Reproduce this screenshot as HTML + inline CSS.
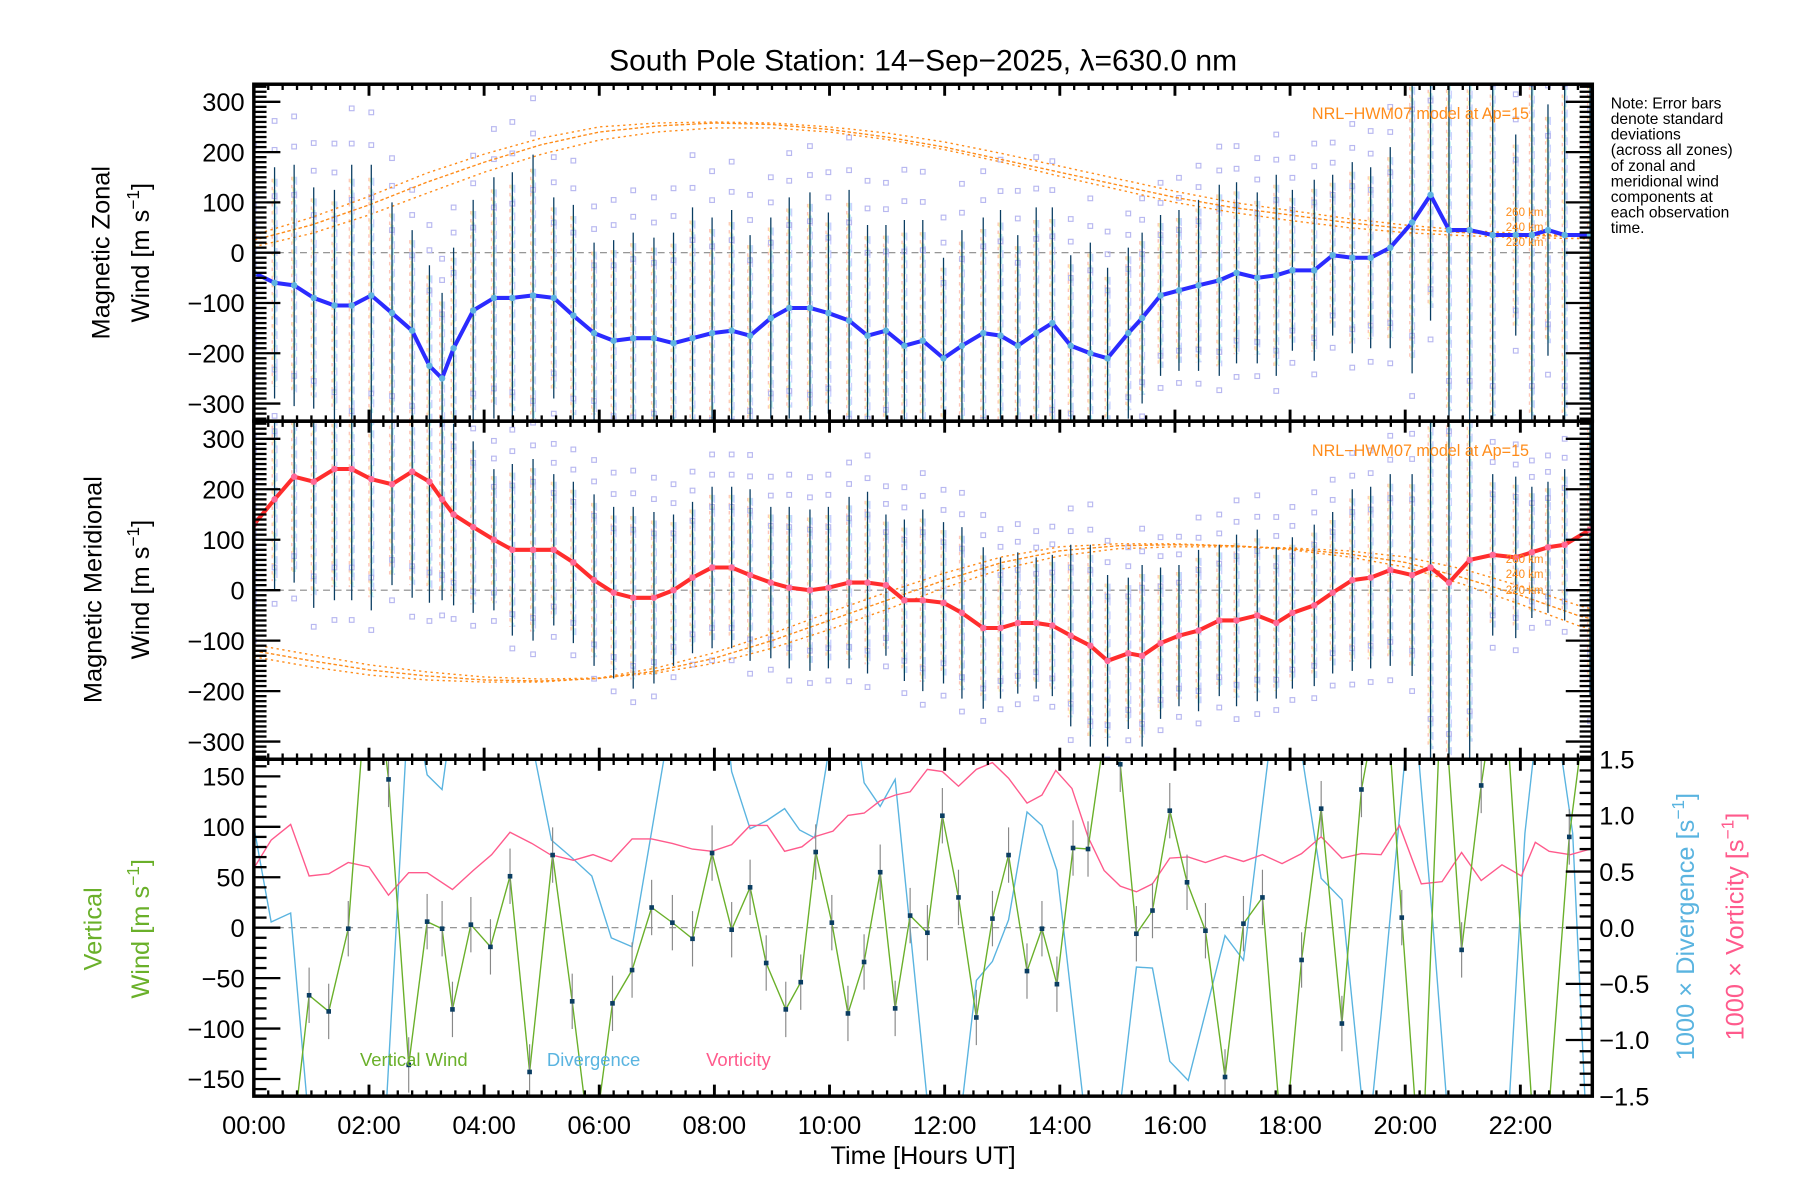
<!DOCTYPE html>
<html><head><meta charset="utf-8"><style>
html,body{margin:0;padding:0;background:#fff;width:1800px;height:1200px;overflow:hidden;}
svg{display:block;font-family:"Liberation Sans",sans-serif;}
</style></head><body>
<svg id="chart" width="1800" height="1200" viewBox="0 0 1560 1040" xmlns="http://www.w3.org/2000/svg">
<rect width="1560" height="1040" fill="#fff"/>
<defs>
<clipPath id="c1"><rect x="220" y="73" width="1160" height="292"/></clipPath>
<clipPath id="c2"><rect x="220" y="365" width="1160" height="293"/></clipPath>
<clipPath id="c3"><rect x="220" y="658" width="1160" height="292"/></clipPath>
</defs>
<text x="800" y="61" font-size="26" text-anchor="middle">South Pole Station: 14−Sep−2025, λ=630.0 nm</text>
<g id="p1"></g>
<g id="p2"></g>
<g id="p3"></g>
<g id="axes"></g>
<text transform="translate(95,219) rotate(-90)" font-size="22" text-anchor="middle">Magnetic Zonal</text>
<text transform="translate(129,219) rotate(-90)" font-size="22" text-anchor="middle">Wind [m s<tspan baseline-shift="super" font-size="15">−1</tspan>]</text>
<text transform="translate(88,511) rotate(-90)" font-size="22" text-anchor="middle">Magnetic Meridional</text>
<text transform="translate(129,511) rotate(-90)" font-size="22" text-anchor="middle">Wind [m s<tspan baseline-shift="super" font-size="15">−1</tspan>]</text>
<text transform="translate(88,805) rotate(-90)" font-size="22" text-anchor="middle" fill="#6ab02a">Vertical</text>
<text transform="translate(129,805) rotate(-90)" font-size="22" text-anchor="middle" fill="#6ab02a">Wind [m s<tspan baseline-shift="super" font-size="15">−1</tspan>]</text>
<text transform="translate(1468,803) rotate(-90)" font-size="22" text-anchor="middle" fill="#5ab4e0">1000 × Divergence [s<tspan baseline-shift="super" font-size="15">−1</tspan>]</text>
<text transform="translate(1511,803) rotate(-90)" font-size="22" text-anchor="middle" fill="#ff5a8c">1000 × Vorticity [s<tspan baseline-shift="super" font-size="15">−1</tspan>]</text>
<text x="800" y="1009" font-size="22" text-anchor="middle">Time [Hours UT]</text>
<text x="312" y="924" font-size="16" fill="#6ab02a">Vertical Wind</text>
<text x="474" y="924" font-size="16" fill="#5ab4e0">Divergence</text>
<text x="612" y="924" font-size="16" fill="#ff5a8c">Vorticity</text>
<g font-size="13.5">
<text x="1396" y="94">Note: Error bars</text><text x="1396" y="107.5">denote standard</text><text x="1396" y="121">deviations</text><text x="1396" y="134.5">(across all zones)</text><text x="1396" y="148">of zonal and</text><text x="1396" y="161.5">meridional wind</text><text x="1396" y="175">components at</text><text x="1396" y="188.5">each observation</text><text x="1396" y="202">time.</text>
</g>
<g fill="#ff8c1a">
<text x="1137" y="103" font-size="14">NRL−HWM07 model at Ap=15</text>
<text x="1305" y="187" font-size="10">260 km</text><text x="1305" y="200" font-size="10">240 km</text><text x="1305" y="213" font-size="10">220 km</text>
<text x="1137" y="395" font-size="14">NRL−HWM07 model at Ap=15</text>
<text x="1305" y="488" font-size="10">260 km</text><text x="1305" y="501" font-size="10">240 km</text><text x="1305" y="515" font-size="10">220 km</text>
</g>
</svg>
<script>
// ---- data ----
const obsHours = [0,0.36,0.70,1.04,1.40,1.70,2.04,2.40,2.75,3.05,3.27,3.47,3.81,4.17,4.49,4.85,5.21,5.55,5.91,6.25,6.59,6.95,7.29,7.62,7.96,8.30,8.62,8.98,9.30,9.66,9.98,10.34,10.66,10.98,11.30,11.62,11.98,12.30,12.67,12.97,13.27,13.59,13.87,14.19,14.53,14.83,15.19,15.43,15.75,16.07,16.41,16.77,17.07,17.43,17.76,18.04,18.42,18.74,19.08,19.40,19.74,20.12,20.44,20.76,21.12,21.52,21.92,22.20,22.48,22.77,23.21];
const zonalWind = [-40,-60,-65,-90,-105,-105,-85,-120,-155,-225,-250,-190,-115,-90,-90,-85,-90,-125,-160,-175,-170,-170,-180,-170,-160,-155,-165,-130,-110,-110,-120,-135,-165,-155,-185,-175,-210,-185,-160,-165,-185,-160,-140,-185,-200,-210,-160,-130,-85,-75,-65,-55,-40,-50,-45,-35,-35,-5,-10,-10,10,60,115,45,45,35,35,35,45,35,35];
const zonalErr = [180,230,240,220,230,280,260,220,200,200,170,200,220,240,250,280,200,220,180,200,210,200,220,260,230,240,200,200,220,230,200,260,220,210,250,240,200,230,230,250,220,250,230,180,220,180,170,170,160,160,170,190,180,170,200,160,180,160,190,180,200,300,250,400,400,400,200,400,250,400,330];
const meridWind = [130,180,225,215,240,240,220,210,235,215,180,150,125,100,80,80,80,55,20,-5,-15,-15,0,25,45,45,30,15,5,0,5,15,15,10,-20,-20,-25,-45,-75,-75,-65,-65,-70,-90,-110,-140,-125,-130,-105,-90,-80,-60,-60,-50,-65,-45,-30,-5,20,25,40,30,45,15,60,70,65,75,85,90,120];
const meridErr = [200,180,210,250,260,260,260,200,250,240,200,180,170,140,170,180,150,160,170,170,180,170,150,150,160,160,170,150,160,160,160,170,180,140,160,180,160,170,160,140,140,130,140,180,200,170,150,180,150,140,160,150,170,170,150,150,160,160,180,180,190,200,400,400,400,160,160,130,130,150,330];
const modelHours = [0,1,2,3,4,5,6,7,8,9,10,11,12,13,14,15,16,17,18,19,20,21,22,23,24];
const modelZonal240 = [25,55,95,140,180,215,240,252,258,255,245,230,210,185,160,135,110,90,75,60,48,40,35,32,30];
const modelZonal260 = [35,70,112,158,196,228,250,258,260,258,250,238,220,197,172,147,122,100,84,68,55,45,38,34,32];
const modelZonal220 = [12,38,75,118,160,196,224,240,248,248,240,225,205,180,152,126,100,80,64,50,40,34,30,28,27];
const modelMerid240 = [-120,-140,-158,-170,-178,-180,-175,-160,-135,-100,-60,-20,20,55,78,88,90,88,82,72,55,25,-10,-50,-80];
const modelMerid260 = [-108,-128,-148,-162,-172,-176,-174,-164,-145,-115,-78,-38,5,42,68,82,86,86,84,78,66,42,8,-30,-60];
const modelMerid220 = [-132,-152,-168,-178,-182,-182,-174,-154,-124,-86,-44,-4,34,66,86,92,92,88,80,66,46,12,-28,-70,-100];
const vertHours = [0,0.60,0.96,1.30,1.64,2.04,2.34,2.69,3.01,3.27,3.45,3.77,4.11,4.45,4.79,5.19,5.53,5.87,6.23,6.57,6.91,7.27,7.62,7.96,8.30,8.62,8.90,9.24,9.50,9.76,10.04,10.32,10.60,10.88,11.14,11.40,11.70,11.96,12.24,12.55,12.83,13.11,13.43,13.69,13.95,14.23,14.49,14.87,15.05,15.33,15.61,15.91,16.21,16.53,16.87,17.19,17.52,17.88,18.20,18.54,18.90,19.24,19.64,19.94,20.28,20.64,20.98,21.32,21.68,22.34,22.85,23.21];
const vertWind = [-170,-250,-67,-83,-1,300,147,-136,6,-1,-81,3,-19,51,-143,72,-73,-230,-75,-42,20,5,-11,74,-2,40,-35,-81,-54,75,5,-85,-34,55,-80,12,-5,111,30,-89,9,72,-43,-1,-56,79,78,230,162,-6,17,116,45,-3,-148,4,30,-230,-32,118,-95,137,260,10,-260,260,-22,141,280,-300,90,250];
const divHours = [0,0.30,0.64,1.34,2.04,2.71,3.01,3.27,3.61,4.41,4.85,5.17,5.51,5.87,6.21,6.57,7.62,7.96,8.30,8.62,8.90,9.22,9.48,9.74,10.28,10.60,10.88,11.14,11.98,12.55,12.83,13.11,13.43,13.69,13.95,14.73,15.33,15.61,15.91,16.23,16.87,17.19,17.88,18.54,18.90,19.34,19.58,20.12,20.48,20.94,21.64,22.08,22.44,22.91,23.21];
const divergence = [0.9,0.05,0.13,-4,-4,2.2,1.36,1.23,2.5,2.5,1.6,0.78,0.63,0.46,-0.09,-0.17,3,3,1.39,0.88,0.95,1.06,0.87,0.8,2.5,1.29,1.08,1.32,-3,-0.47,-0.30,0.07,1.03,0.91,0.51,-3,-0.35,-0.36,-1.19,-1.36,-0.07,-0.29,2.6,0.44,0.25,-2,-0.78,2.2,0.04,-3,-3,0.84,2.5,0.84,-2.5];
const vortHours = [0,0.30,0.64,0.96,1.30,1.64,2.00,2.34,2.69,3.01,3.45,3.81,4.13,4.45,4.83,5.15,5.55,5.89,6.21,6.57,6.91,7.27,7.62,7.96,8.30,8.62,8.92,9.22,9.52,9.74,10.06,10.32,10.60,10.88,11.14,11.40,11.70,11.96,12.24,12.55,12.83,13.11,13.43,13.69,13.93,14.21,14.49,14.77,15.05,15.33,15.61,15.91,16.23,16.53,16.87,17.19,17.52,17.86,18.20,18.54,18.90,19.24,19.58,19.90,20.28,20.64,20.98,21.32,21.68,22.02,22.26,22.50,22.87,23.21];
const vorticity = [0.53,0.78,0.92,0.46,0.48,0.58,0.54,0.29,0.49,0.49,0.34,0.51,0.65,0.85,0.75,0.65,0.60,0.65,0.59,0.79,0.79,0.75,0.70,0.68,0.74,0.91,0.91,0.68,0.72,0.81,0.86,1.0,1.02,1.13,1.18,1.21,1.41,1.39,1.26,1.41,1.47,1.33,1.11,1.18,1.40,1.24,0.81,0.51,0.37,0.32,0.39,0.62,0.63,0.58,0.64,0.59,0.65,0.57,0.66,0.81,0.62,0.66,0.65,0.91,0.39,0.41,0.67,0.42,0.56,0.46,0.76,0.68,0.65,0.70];
const xTickLabels = ["00:00","02:00","04:00","06:00","08:00","10:00","12:00","14:00","16:00","18:00","20:00","22:00"];
const windTicks = [-300,-200,-100,0,100,200,300];
const vertTicks = [-150,-100,-50,0,50,100,150];
const rightTicks = [-1.5,-1.0,-0.5,0.0,0.5,1.0,1.5];

// ---- geometry ----
const NS = 'http://www.w3.org/2000/svg';
const X0 = 220, X1 = 1380, HMAX = 23.25;
const xs = h => X0 + h * (X1 - X0) / HMAX;
const P = [{top:73,bot:365,min:-335,max:335},{top:365,bot:658,min:-335,max:335},{top:658,bot:950,min:-167,max:167}];
const yf = (p, v) => p.bot - (v - p.min) / (p.max - p.min) * (p.bot - p.top);
const yR = v => 804 - v * (146 / 1.5);
function mk(parent, tag, attrs) {
  const e = document.createElementNS(NS, tag);
  for (const k in attrs) e.setAttribute(k, attrs[k]);
  parent.appendChild(e);
  return e;
}
function pts(hs, vs, fy) { return hs.map((h, i) => xs(h).toFixed(1) + ',' + fy(vs[i]).toFixed(1)).join(' '); }
// polyline clipped geometrically to [ymin, ymax], returned as path d
function clippedPath(hs, vs, fy, ymin, ymax) {
  let d = '', pen = false;
  for (let i = 0; i < hs.length - 1; i++) {
    let xa = xs(hs[i]), ya = fy(vs[i]), xb = xs(hs[i + 1]), yb = fy(vs[i + 1]);
    let t0 = 0, t1 = 1;
    const dy = yb - ya;
    if (dy === 0) { if (ya < ymin || ya > ymax) { pen = false; continue; } }
    else {
      let ta = (ymin - ya) / dy, tb = (ymax - ya) / dy;
      if (ta > tb) { const s = ta; ta = tb; tb = s; }
      t0 = Math.max(0, ta); t1 = Math.min(1, tb);
      if (t0 > t1) { pen = false; continue; }
    }
    const x0 = xa + (xb - xa) * t0, y0 = ya + dy * t0, x1 = xa + (xb - xa) * t1, y1 = ya + dy * t1;
    if (!pen || t0 > 0) d += 'M' + x0.toFixed(1) + ',' + y0.toFixed(1);
    d += 'L' + x1.toFixed(1) + ',' + y1.toFixed(1);
    pen = t1 === 1;
  }
  return d;
}

const pastel = ['#ffb8a8','#fff0a0','#c8f5b0','#b0f0f0','#c0c8ff'];
function windPanel(gid, clip, p, vals, errs, lineCol, dotCol, mh, m260, m240, m220, nm) {
  const g = mk(document.getElementById(gid), 'g', {'clip-path': 'url(#' + clip + ')'});
  const fy = v => yf(p, v);
  const z = mk(g, 'line', {x1: X0, x2: X1, y1: fy(0), y2: fy(0), stroke: '#888', 'stroke-dasharray': '6,4', 'stroke-width': 1});
  
  
  obsHours.forEach((h, i) => {
    const e = errs[i] || 170, x = xs(h);
    pastel.forEach((c, k) => {
      const b = mk(g, 'line', {x1: x - 2 + k, x2: x - 2 + k, y1: fy(vals[i] + e * 0.9), y2: fy(vals[i] - e * 0.9), stroke: c, 'stroke-width': 1.3, 'stroke-dasharray': (3 + k) + ',' + (4 + k % 3), opacity: 0.8});
      
      
    });
    [1.15, 0.75, -0.75, -1.15, 1.4].forEach(f => {
      const s = mk(g, 'rect', {x: x - 2, y: fy(vals[i] + e * f) - 2, width: 4, height: 4, fill: 'none', stroke: '#b8b8f0', 'stroke-width': 1});
      
      
    });
  });
  [[m260, '2,3'], [m240, '3,2'], [m220, '2,3']].forEach(([m, d]) => {
    const l = mk(g, 'polyline', {points: pts(mh, m, fy), fill: 'none', stroke: '#ff8c1a', 'stroke-width': 1.2, 'stroke-dasharray': d});
    
    
  });
  obsHours.forEach((h, i) => {
    const e = errs[i] || 170;
    const b = mk(g, 'line', {x1: xs(h), x2: xs(h), y1: fy(vals[i] + e), y2: fy(vals[i] - e), stroke: '#0a3d62', 'stroke-width': 1.1});
    
    
  });
  const ln = mk(g, 'polyline', {points: pts(obsHours, vals, fy), fill: 'none', stroke: lineCol, 'stroke-width': 3.5, 'stroke-linejoin': 'round'});
  
  
  obsHours.forEach((h, i) => {
    const d = mk(g, 'circle', {cx: xs(h), cy: fy(vals[i]), r: 2.8, fill: dotCol});
    
    
  });
}
windPanel('p1', 'c1', P[0], zonalWind, zonalErr, '#2b2bff', '#5fb4e0', modelHours, modelZonal260, modelZonal240, modelZonal220, 'zonal');
windPanel('p2', 'c2', P[1], meridWind, meridErr, '#ff2d2d', '#ff6a98', modelHours, modelMerid260, modelMerid240, modelMerid220, 'meridional');

(function () {
  const g = mk(document.getElementById('p3'), 'g', {'clip-path': 'url(#c3)'});
  const fy = v => yf(P[2], v);
  const YMIN = P[2].top - 5, YMAX = P[2].bot + 5;
  const z = mk(g, 'line', {x1: X0, x2: X1, y1: fy(0), y2: fy(0), stroke: '#888', 'stroke-dasharray': '6,4', 'stroke-width': 1});
  
  
  const dv = mk(g, 'path', {d: clippedPath(divHours, divergence, yR, YMIN, YMAX), fill: 'none', stroke: '#5ab4e0', 'stroke-width': 1.2});
  
  
  const vo = mk(g, 'path', {d: clippedPath(vortHours, vorticity, yR, YMIN, YMAX), fill: 'none', stroke: '#ff5a8c', 'stroke-width': 1.2});
  
  
  const vw = mk(g, 'path', {d: clippedPath(vertHours, vertWind, fy, YMIN, YMAX), fill: 'none', stroke: '#6ab02a', 'stroke-width': 1.2});
  
  
  vertHours.forEach((h, i) => {
    const x = xs(h), y = fy(vertWind[i]);
    if (y < YMIN - 30 || y > YMAX + 30) return;
    const e = mk(g, 'line', {x1: x, x2: x, y1: y - 24, y2: y + 24, stroke: '#888', 'stroke-width': 1});
    
    
    const d = mk(g, 'rect', {x: x - 2, y: y - 2, width: 4, height: 4, fill: '#0a3d62'});
    
    
  });
})();

(function () {
  const g = document.getElementById('axes');
  P.forEach((p, pi) => {
    const fr = mk(g, 'rect', {x: X0, y: p.top, width: X1 - X0, height: p.bot - p.top, fill: 'none', stroke: '#000', 'stroke-width': 3});
    
    
    for (let q = 0; q <= HMAX * 4; q++) {
      const h = q / 4, x = xs(h), major = q % 8 === 0, L = major ? 10 : 5;
      mk(g, 'line', {x1: x, x2: x, y1: p.bot, y2: p.bot - L, stroke: '#000', 'stroke-width': major ? 2.5 : 2});
      mk(g, 'line', {x1: x, x2: x, y1: p.top, y2: p.top + L, stroke: '#000', 'stroke-width': major ? 2.5 : 2});
    }
    const step = 10, majStep = pi < 2 ? 100 : 50;
    const rightSide = pi < 2;
    for (let v = Math.ceil(p.min / step) * step; v <= p.max; v += step) {
      const y = yf(p, v), major = v % majStep === 0, L = major ? 23 : 11;
      mk(g, 'line', {x1: X0, x2: X0 + L, y1: y, y2: y, stroke: '#000', 'stroke-width': 2});
      if (rightSide) mk(g, 'line', {x1: X1, x2: X1 - L, y1: y, y2: y, stroke: '#000', 'stroke-width': 2});
    }
    const labs = pi < 2 ? windTicks : vertTicks;
    labs.forEach(v => {
      const t = mk(g, 'text', {x: 212, y: yf(p, v) + 8, 'font-size': 22, 'text-anchor': 'end'});
      t.textContent = v < 0 ? '−' + Math.abs(v) : String(v);
      
      
    });
  });
  for (let k = -15; k <= 15; k++) {
    const v = k / 10, y = yR(v), major = k % 5 === 0, L = major ? 23 : 11;
    mk(g, 'line', {x1: X1, x2: X1 - L, y1: y, y2: y, stroke: '#000', 'stroke-width': 2});
  }
  rightTicks.forEach(v => {
    const t = mk(g, 'text', {x: 1386, y: yR(v) + 8, 'font-size': 22});
    t.textContent = (v < 0 ? '−' : '') + Math.abs(v).toFixed(1);
    
    
  });
  xTickLabels.forEach((s, i) => {
    const t = mk(g, 'text', {x: xs(i * 2), y: 983, 'font-size': 22, 'text-anchor': 'middle'});
    t.textContent = s;
    
    
  });
})();
</script>
</body></html>
